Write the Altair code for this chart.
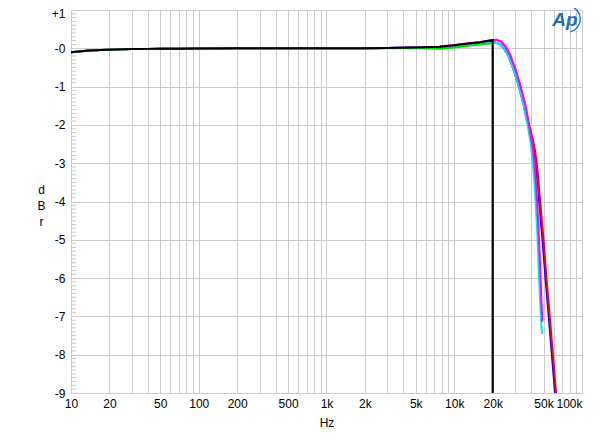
import altair as alt
import pandas as pd
import numpy as np

# ---- data ----
low_f = [10, 12, 14, 17, 20, 25, 30, 40, 50, 70, 100, 200, 500, 1000, 2000, 3000, 5000, 7700, 10000, 13300, 16000, 18000]
low_db = [-0.10, -0.08, -0.06, -0.045, -0.035, -0.025, -0.02, -0.015, -0.012, -0.01, -0.005, 0.0, 0.0, 0.0, 0.0, 0.005, 0.02, 0.04, 0.08, 0.13, 0.16, 0.19]
green_low_db = [-0.10, -0.08, -0.06, -0.045, -0.035, -0.025, -0.02, -0.015, -0.012, -0.01, -0.005, 0.0, 0.0, 0.0, 0.0, 0.0, 0.0, -0.01, 0.02, 0.07, 0.10, 0.12]
cyan_low_db = [-0.10, -0.08, -0.06, -0.045, -0.035, -0.025, -0.02, -0.015, -0.012, -0.01, -0.005, 0.0, 0.0, 0.0, 0.0, 0.005, 0.02, 0.03, 0.06, 0.10, 0.12, 0.14]

black_f = low_f + [20000, 20000]
black_db = low_db + [0.21, -9.8]

green_f = low_f + [20000, 20000]
green_db = green_low_db + [0.13, -9.8]

magenta_f = low_f + [20000, 21500, 23500, 25700, 27300, 29900, 32700, 35800, 38500, 40800, 42400, 43600, 44700, 46100, 47400, 48900]
magenta_db = low_db + [0.21, 0.22, 0.17, 0.0, -0.17, -0.52, -0.95, -1.45, -2.0, -2.5, -3.0, -3.5, -4.1, -5.0, -6.0, -7.14]

cyan_f = low_f + [20000, 21000, 23000, 25000, 26600, 29100, 31800, 34800, 37500, 39700, 41300, 42400, 43500, 44900, 46100, 47600, 48600]
cyan_db = cyan_low_db + [0.15, 0.15, 0.10, -0.05, -0.2, -0.55, -0.95, -1.45, -2.0, -2.5, -3.0, -3.5, -4.1, -5.0, -6.0, -7.0, -7.46]

red_f = low_f + [20000, 21500, 23500, 25700, 27300, 29900, 32700, 35800, 38500, 41000, 42900, 44900, 46900, 50000, 52700, 55900, 59200, 62600, 66000]
red_db = low_db + [0.21, 0.22, 0.17, 0.0, -0.17, -0.52, -0.95, -1.45, -2.0, -2.35, -2.66, -3.2, -3.96, -5.0, -6.0, -7.0, -8.0, -9.0, -10.0]

blue_f = low_f + [20000, 21000, 23000, 25000, 26600, 29100, 31800, 34800, 37800, 40300, 42100, 44100, 46100, 49100, 51800, 54900, 58100, 61500, 65000]
blue_db = cyan_low_db + [0.15, 0.15, 0.10, -0.05, -0.2, -0.55, -0.95, -1.45, -2.0, -2.35, -2.66, -3.2, -3.96, -5.0, -6.0, -7.0, -8.0, -9.0, -10.0]

series = [
    ("blue", blue_f, blue_db, "#0000ff"),
    ("red", red_f, red_db, "#ff0000"),
    ("cyan", cyan_f, cyan_db, "#00e8f0"),
    ("magenta", magenta_f, magenta_db, "#ff00ff"),
    ("green", green_f, green_db, "#00e000"),
    ("black", black_f, black_db, "#000000"),
]

x_ticks = [d * 10 ** k for k in range(1, 5) for d in range(1, 10)] + [100000]
x_labels = [10, 20, 50, 100, 200, 500, 1000, 2000, 5000, 10000, 20000, 50000, 100000]
y_ticks = list(range(-9, 2))
y_minor = [round(v, 1) for v in np.arange(-9.0, 1.01, 0.1) if abs(v - round(v)) > 0.01]

FONT = "Liberation Sans"

xscale = alt.Scale(type="log", domain=[10, 100000], nice=False)
yscale = alt.Scale(domain=[-9, 1], nice=False)

label_list = "[" + ",".join(str(v) for v in x_labels) + "]"
x_axis = alt.Axis(
    values=x_ticks,
    grid=True, gridColor="#cccccc", gridWidth=1,
    ticks=False, domain=False,
    labelExpr=f"indexof({label_list}, datum.value) >= 0 ? (datum.value >= 1000 ? (datum.value/1000) + 'k' : datum.value + '') : ''",
    labelOverlap=False, labelFont=FONT, labelFontSize=12, labelColor="#000000",
    labelPadding=5,
    labelAlign=alt.condition("datum.value == 100000", alt.value("right"), alt.value("center")),
    title="Hz", titleFont=FONT, titleFontSize=12, titleFontWeight="normal", titlePadding=8,
    titleColor="#000000",
)
y_axis = alt.Axis(
    values=y_ticks,
    grid=True, gridColor="#cccccc", gridWidth=1,
    ticks=False, domain=False,
    labelExpr="datum.value > 0 ? '+' + datum.value : '-' + abs(datum.value)",
    labelFont=FONT, labelFontSize=12, labelColor="#000000", labelPadding=6,
    labelOffset=alt.condition("datum.value == 1", alt.value(3), alt.value(0)),
    title=["d", "B", "r"], titleAngle=0, titleFont=FONT, titleFontSize=12,
    titleFontWeight="normal", titleColor="#000000",
    titleAlign="center", titleBaseline="top", titleX=-30, titleY=174, titleLineHeight=16,
)

layers = []
# minor ticks on left edge
minor_df = pd.DataFrame({"y": y_minor})
layers.append(
    alt.Chart(minor_df).mark_rule(color="#c8c8c8", strokeWidth=1).encode(
        y=alt.Y("y:Q", scale=yscale, axis=y_axis),
        x=alt.value(0), x2=alt.value(5),
    )
)

for name, fl, dl, col in series:
    df = pd.DataFrame({"f": fl, "db": dl, "idx": list(range(len(fl)))})
    layers.append(
        alt.Chart(df).mark_line(color=col, strokeWidth=2, clip=True).encode(
            x=alt.X("f:Q", scale=xscale, axis=x_axis),
            y=alt.Y("db:Q", scale=yscale, axis=y_axis),
            order="idx:Q",
        )
    )

# logo
logo_df = pd.DataFrame({"t": ["Ap"]})
layers.append(
    alt.Chart(logo_df).mark_text(
        font=FONT, fontSize=19, fontStyle="italic", fontWeight="bold", color="#1a6fb5",
        align="center", baseline="middle",
    ).encode(x=alt.value(494), y=alt.value(10), text="t:N")
)
layers.append(
    alt.Chart(logo_df).mark_arc(
        radius=14, radius2=12.6, theta=0.2, theta2=2.9, color="#1a6fb5",
    ).encode(x=alt.value(496), y=alt.value(9))
)

chart = alt.layer(*layers).properties(
    width=511, height=383,
    autosize=alt.AutoSizeParams(type="none"),
    padding={"left": 63, "top": 2, "right": 10, "bottom": 40},
).configure_view(stroke="#aaaaaa", strokeWidth=1).configure(background="white")

chart.save("out.html", embed_options={"renderer": "svg", "actions": False})
